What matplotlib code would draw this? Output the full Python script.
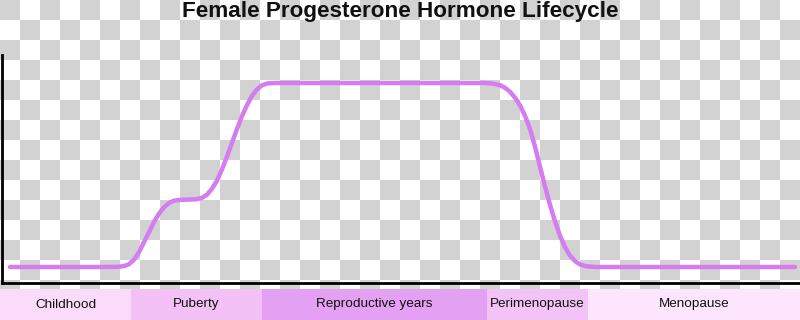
import numpy as np
import matplotlib
matplotlib.use('Agg')
import matplotlib.pyplot as plt

# Curve: x position (px across the chart), hormone level (0 = baseline, 100 = plateau)
curve_x = [10, 100, 118, 124, 129, 134, 139, 144, 149, 154, 159, 164, 169, 174,
           180, 188, 196, 202, 207, 212, 217, 222, 227, 232, 237, 242, 247, 252,
           257, 262, 268, 276, 400,
           485, 492, 500, 505, 510, 515, 520, 525, 530, 535, 540, 545, 550,
           555, 560, 565, 570, 575, 580, 586, 595, 700, 795]
curve_level = [0, 0, 0.1, 0.5, 1.5, 4, 8, 13.5, 19, 24.5, 29, 32.5, 34.8, 36,
               36.5, 36.6, 36.8, 37.6, 39.3, 42.5, 47, 53, 60, 67.5, 75, 82, 88, 93,
               96.5, 98.8, 99.8, 100, 100,
               100, 99.7, 98.8, 97.4, 95.2, 92, 87.8, 82.2, 75, 65.5, 54.5, 43.8, 33.8,
               24.8, 17, 10.8, 6.2, 3.2, 1.4, 0.4, 0, 0, 0]

# Life stages along the bottom strip
stages = ["Childhood", "Puberty", "Reproductive years", "Perimenopause", "Menopause"]
stage_edges = [0, 131, 262, 487, 588, 800]
stage_colors = ["#fadcfa", "#f4c1f7", "#e4a0f2", "#f3c3f7", "#fde6fd"]

title = "Female Progesterone Hormone Lifecycle"

fig = plt.figure(figsize=(8, 3.2), dpi=100)

# Transparent-looking checkerboard background (20 px cells)
ax_bg = fig.add_axes([0, 0, 1, 1])
rows, cols = 16, 40
checker = (np.add.outer(np.arange(rows), np.arange(cols)) % 2).astype(float)
ax_bg.imshow(checker, cmap=matplotlib.colors.ListedColormap(["#d2d2d2", "#ffffff"]),
             extent=(0, 800, 320, 0), interpolation="nearest", aspect="auto")
ax_bg.set_axis_off()

# Main chart
ax = fig.add_axes([2 / 800, (320 - 283) / 320, 798 / 800, (283 - 55) / 320])
ax.set_facecolor("none")
ax.plot(curve_x, curve_level, color="#d47cf0", linewidth=3.2, solid_capstyle="round")
ax.set_xlim(2, 800)
ax.set_ylim(-8.7, 115.2)
for side in ["top", "right"]:
    ax.spines[side].set_visible(False)
for side in ["left", "bottom"]:
    ax.spines[side].set_linewidth(2)
    ax.spines[side].set_color("black")
ax.set_xticks([])
ax.set_yticks([])

# Stage strip
ax_s = fig.add_axes([0, 0, 1, 31 / 320])
for i, name in enumerate(stages):
    left = stage_edges[i]
    width = stage_edges[i + 1] - stage_edges[i]
    ax_s.barh(0, width, left=left, height=1, color=stage_colors[i], edgecolor="none")
    ax_s.text(left + width / 2, 0, name, ha="center", va="center",
              fontsize=9.7, family="Liberation Sans", color="#111111")
ax_s.set_xlim(0, 800)
ax_s.set_ylim(-0.5, 0.5)
ax_s.set_axis_off()

fig.text(0.5, 1 - 17 / 320, title, ha="center", va="baseline",
         fontsize=16.2, fontweight="bold", family="Liberation Sans", color="#111111")

plt.savefig("out.png", dpi=100)
